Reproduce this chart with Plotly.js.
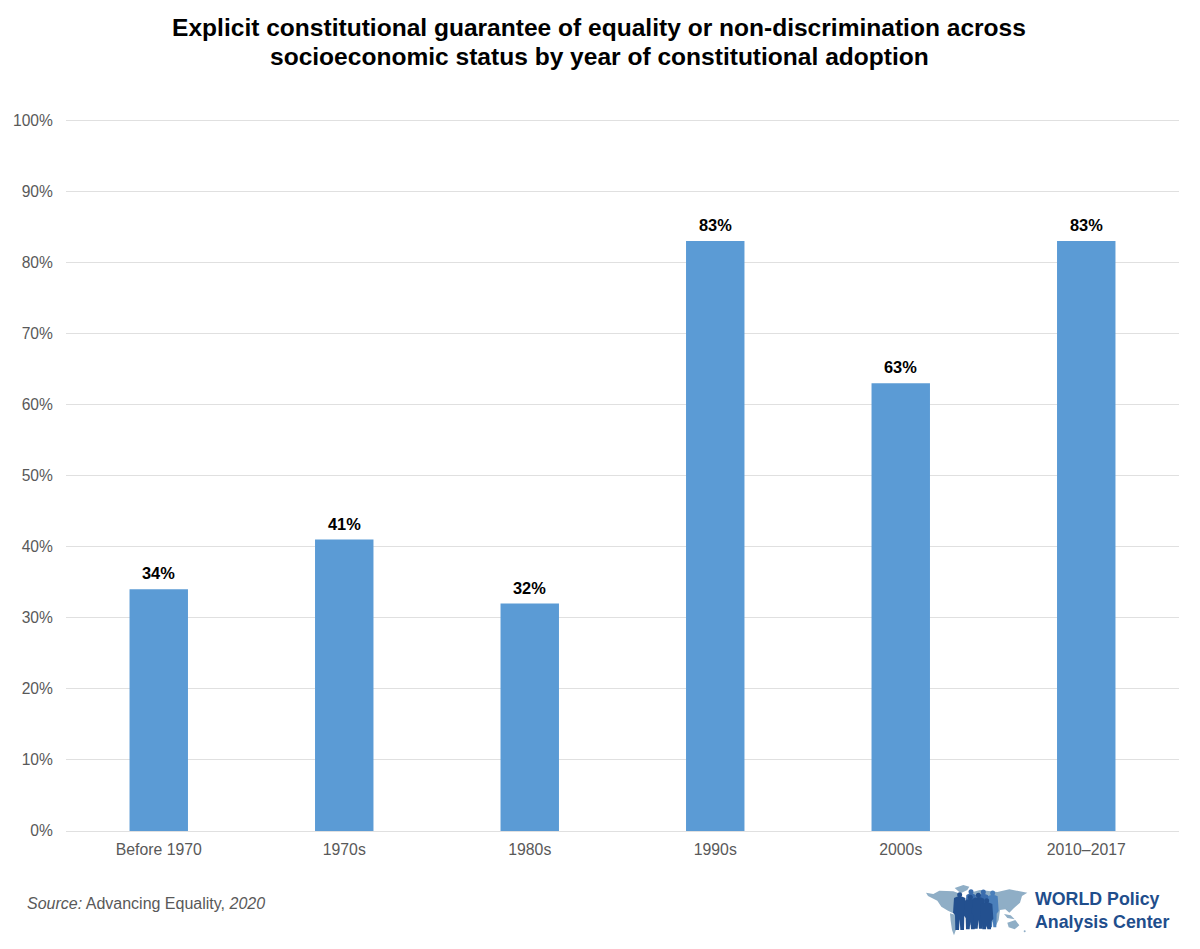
<!DOCTYPE html>
<html><head><meta charset="utf-8">
<script src="https://cdn.plot.ly/plotly-3.0.1.min.js"></script>
<style>html,body{margin:0;padding:0;background:#fff}</style></head>
<body><div id="chart" style="width:1200px;height:949px"></div>
<script>
const categories = ["Before 1970","1970s","1980s","1990s","2000s","2010–2017"];
const values = [34,41,32,83,63,83];
const tickVals = [0,10,20,30,40,50,60,70,80,90,100];
const tickText = tickVals.map(v=>v+"%");
const titleLine1 = "<b>Explicit constitutional guarantee of equality or non-discrimination across</b>";
const titleLine2 = "<b>socioeconomic status by year of constitutional adoption</b>";
const F = "Liberation Sans, Arial, sans-serif";

/* Logo: small decorative picture, world map with a group of people */
function person(cx,top,w,bottom,col){
  const s = top+12;
  return `<circle cx="${cx}" cy="${top+6}" r="7.5" fill="${col}"/>`+
   `<path d="M${cx-w},${s+4} Q${cx},${s-6} ${cx+w},${s+4} L${cx+w+3},${s+48} L${cx+w-3},${s+56} L${cx+w-4},${bottom} L${cx+2},${bottom} L${cx},${s+68} L${cx-2},${bottom} L${cx-w+4},${bottom} L${cx-w+3},${s+56} L${cx-w-3},${s+48} Z" fill="${col}"/>`;
}
const logoSvg = `<svg xmlns="http://www.w3.org/2000/svg" width="336" height="174" viewBox="0 0 336 174">`+
 `<g fill="#8FAEC6">`+
 `<path d="M18,38 L40,42 L58,32 L100,34 L122,42 L118,62 L104,72 L100,100 L84,92 L64,80 L52,62 L24,48 Z"/>`+
 `<path d="M104,24 L130,15 L148,20 L142,30 L122,40 Z"/>`+
 `<path d="M90,100 L116,108 L114,132 L102,166 L96,150 L92,122 Z"/>`+
 `<path d="M150,38 L180,30 L232,36 L268,28 L322,38 L306,48 L300,68 L282,84 L268,98 L256,88 L240,90 L236,120 L226,140 L214,120 L210,90 L170,90 Z"/>`+
 `<path d="M262,128 L286,120 L298,136 L284,148 L266,142 Z"/>`+
 `<path d="M252,102 L272,106 L284,118 L262,114 Z"/>`+
 `<circle cx="314" cy="154" r="3"/></g>`+
 person(218,33,15,142,"#4A7FBB")+
 person(190,30,14,140,"#3A6CAD")+
 person(153,29,14,135,"#3A6CAD")+
 person(119,38,17,150,"#23508F")+
 person(151,46,17,148,"#23508F")+
 person(175,40,17,146,"#23508F")+
 person(200,56,17,148,"#23508F")+
 `</svg>`;
const logoUri = "data:image/svg+xml;base64,"+btoa(logoSvg);

const W=1200,H=949,L=66,R=21,T=118,B=118;
const px=x=>(x-L)/(W-L-R), py=y=>(H-B-y)/(H-T-B);

Plotly.newPlot("chart",[{
  type:"bar",x:categories,y:values,width:0.315,
  marker:{color:"#5B9BD5"},hoverinfo:"skip"
}],{
  width:W,height:H,margin:{l:L,r:R,t:T,b:B},
  paper_bgcolor:"#fff",plot_bgcolor:"#fff",showlegend:false,
  title:{text:titleLine1,font:{family:F,size:24.55,color:"#000"},
    x:599/1200,xanchor:"center",xref:"container",y:1-27/949,yanchor:"middle"},
  xaxis:{type:"category",tickfont:{family:F,size:15.8,color:"#595959"},showline:true,linecolor:"#e0e0e0",linewidth:1,
    ticks:"outside",ticklen:4,tickcolor:"rgba(0,0,0,0)",showgrid:false},
  yaxis:{range:[0,100.3],tickvals:tickVals,ticktext:tickText,tickfont:{family:F,size:15.6,color:"#595959"},
    gridcolor:"#e0e0e0",gridwidth:1,zeroline:false,showline:false,ticks:"outside",ticklen:9,tickcolor:"rgba(0,0,0,0)"},
  images:[{source:logoUri,xref:"paper",yref:"paper",x:px(920),y:py(880),sizex:112/(W-L-R),sizey:58/(H-T-B),
    xanchor:"left",yanchor:"top",sizing:"stretch",layer:"above"}],
  annotations:[
   {xref:"paper",yref:"paper",x:px(599),y:py(56),xanchor:"center",yanchor:"middle",showarrow:false,
    text:titleLine2,font:{family:F,size:24.55,color:"#000"}},
   ...categories.map((c,i)=>({x:c,y:values[i],xref:"x",yref:"y",yshift:5,yanchor:"bottom",showarrow:false,
      text:"<b>"+values[i]+"%</b>",font:{family:F,size:16.4,color:"#000"}})),
   {xref:"paper",yref:"paper",x:px(26),y:py(903),xanchor:"left",yanchor:"middle",showarrow:false,align:"left",
    text:"<i>Source:</i> Advancing Equality, <i>2020</i>",font:{family:F,size:16,color:"#595959"},xshift:-1},
   {xref:"paper",yref:"paper",x:px(1034),y:py(910),xanchor:"left",yanchor:"middle",showarrow:false,align:"left",
    text:"<b>WORLD Policy<br>Analysis Center</b>",font:{family:F,size:17.8,color:"#1F4E8C"},xshift:-1}
  ]
},{displayModeBar:false,staticPlot:true});
</script></body></html>
